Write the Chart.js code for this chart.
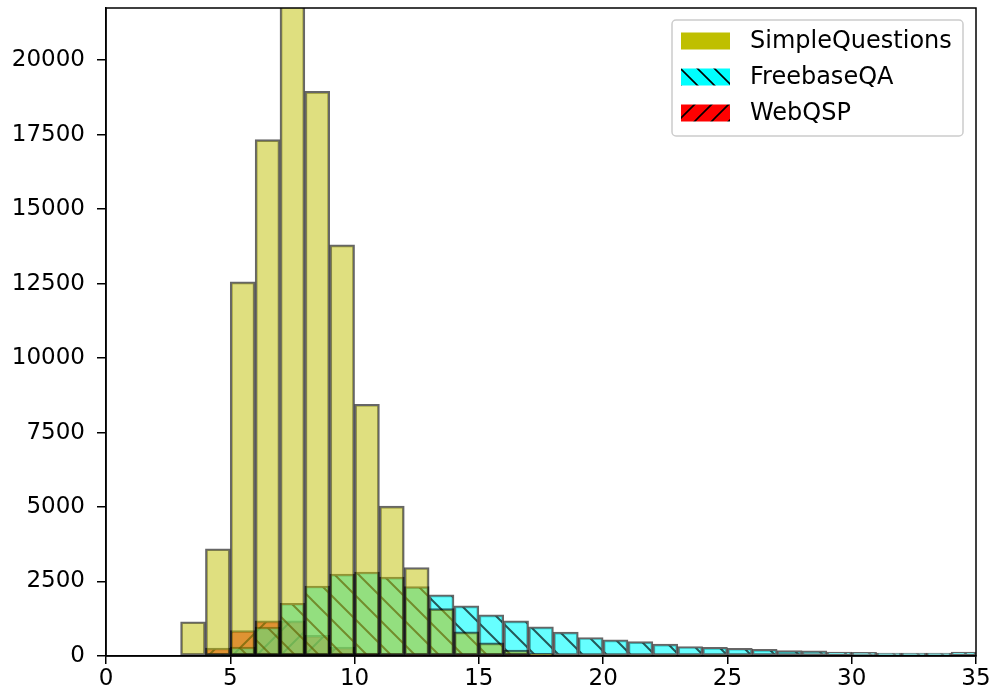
<!DOCTYPE html>
<html>
<head>
<meta charset="utf-8">
<script src="https://cdn.jsdelivr.net/npm/chart.js@4.4.1/dist/chart.umd.min.js"></script>
<style>
  html, body { margin: 0; background: #fff; }
  #wrap { width: 995px; height: 698px; }
</style>
</head>
<body>
<div id="wrap"><canvas id="hist" width="995" height="698"></canvas></div>
<script>
// 直方图：问题长度分布（每格宽 1）
const BIN_LEFT = [0, 1, 2, 3, 4, 5, 6, 7, 8, 9, 10, 11, 12, 13, 14, 15, 16, 17,
  18, 19, 20, 21, 22, 23, 24, 25, 26, 27, 28, 29, 30, 31, 32, 33, 34];

const SIMPLE_QUESTIONS = [0, 0, 0, 1150, 3600, 12560, 17330, 23000, 18950, 13800, 8450,
  5030, 2970, 1590, 810, 440, 200, 80, 30, 15, 8, 5, 3, 2, 1, 1, 0, 0, 0, 0, 0, 0, 0, 0, 0];

const FREEBASE_QA = [0, 0, 0, 0, 40, 300, 970, 1770, 2350, 2750, 2820,
  2650, 2330, 2050, 1680, 1380, 1180, 980, 800, 620, 540, 480, 400, 320, 290,
  260, 220, 180, 170, 130, 120, 100, 100, 100, 130];

const WEB_QSP = [0, 0, 0, 0, 270, 850, 1180, 1180, 690, 300, 100,
  40, 20, 10, 5, 3, 2, 1, 0, 0, 0, 0, 0, 0, 0, 0, 0, 0, 0, 0, 0, 0, 0, 0, 0];

const X_TICKS = [0, 5, 10, 15, 20, 25, 30, 35];
const Y_TICKS = [0, 2500, 5000, 7500, 10000, 12500, 15000, 17500, 20000];

const FONT = 'DejaVu Sans';

// 斜线填充
function hatch(fill, line, dir, size, lw) {
  const c = document.createElement('canvas');
  c.width = c.height = size;
  const g = c.getContext('2d');
  g.fillStyle = fill;
  g.fillRect(0, 0, size, size);
  g.strokeStyle = line;
  g.lineWidth = lw;
  g.beginPath();
  for (const o of [-size, 0, size]) {
    if (dir === '\\') {
      g.moveTo(o - 1, -1);
      g.lineTo(o + size + 1, size + 1);
    } else {
      g.moveTo(o - 1, size + 1);
      g.lineTo(o + size + 1, -1);
    }
  }
  g.stroke();
  return g.createPattern(c, 'repeat');
}

const toPoints = vals => vals.map((v, i) => ({ x: BIN_LEFT[i] + 0.5, y: v }));

const ctx = document.getElementById('hist').getContext('2d');

const barCommon = {
  borderColor: 'rgba(0,0,0,0.6)',
  borderWidth: 2,
  borderSkipped: false,
  barPercentage: 1,
  categoryPercentage: 1,
  grouped: false
};

// 图例
const legendPlugin = {
  id: 'boxLegend',
  afterDraw(chart) {
    const g = chart.ctx;
    const x0 = 672, y0 = 20, w = 291, h = 116;
    g.save();
    g.beginPath();
    g.roundRect(x0, y0, w, h, 4);
    g.fillStyle = 'rgba(255,255,255,0.8)';
    g.fill();
    g.strokeStyle = '#cccccc';
    g.lineWidth = 1.5;
    g.stroke();
    chart.data.datasets.forEach((ds, i) => {
      const cy = 41 + i * 36;
      g.fillStyle = ds.legendFill;
      g.fillRect(681, cy - 8.5, 49, 17);
      g.fillStyle = '#000';
      g.font = `24px "${FONT}"`;
      g.textBaseline = 'middle';
      g.fillText(ds.label, 750, cy + 1);
    });
    g.restore();
  }
};

// 边框
const framePlugin = {
  id: 'frame',
  afterDatasetsDraw(chart) {
    const { left, right, top, bottom } = chart.chartArea;
    const g = chart.ctx;
    g.save();
    g.strokeStyle = '#000';
    g.lineWidth = 1.5;
    g.strokeRect(left, top, right - left, bottom - top);
    g.restore();
  }
};

new Chart(ctx, {
  type: 'bar',
  data: {
    datasets: [
      {
        ...barCommon,
        label: 'SimpleQuestions',
        data: toPoints(SIMPLE_QUESTIONS),
        backgroundColor: 'rgba(191,191,0,0.5)',
        legendFill: '#bfbf00'
      },
      {
        ...barCommon,
        label: 'FreebaseQA',
        data: toPoints(FREEBASE_QA),
        backgroundColor: hatch('rgba(0,255,255,0.6)', 'rgba(0,0,0,0.65)', '\\', 24, 2),
        legendFill: hatch('#00ffff', '#000', '\\', 17, 1.6)
      },
      {
        ...barCommon,
        label: 'WebQSP',
        data: toPoints(WEB_QSP),
        backgroundColor: hatch('rgba(255,0,0,0.6)', 'rgba(0,0,0,0.65)', '/', 24, 2),
        legendFill: hatch('#ff0000', '#000', '/', 17, 1.6)
      }
    ]
  },
  options: {
    responsive: false,
    animation: false,
    layout: { padding: { top: 8, right: 19, left: 0, bottom: 0 } },
    plugins: {
      legend: { display: false },
      tooltip: { enabled: false }
    },
    scales: {
      x: {
        type: 'linear',
        min: 0,
        max: 35,
        offset: false,
        afterFit: axis => { axis.height = 42; axis.paddingLeft = 0; axis.paddingRight = 0; },
        afterBuildTicks: axis => { axis.ticks = X_TICKS.map(v => ({ value: v })); },
        grid: { display: true, offset: false, drawOnChartArea: false, drawTicks: true, tickLength: 8, color: '#000', lineWidth: 1.5 },
        border: { display: true, color: '#000', width: 1.5 },
        ticks: { color: '#000', font: { family: FONT, size: 23 }, padding: 1, maxRotation: 0, callback: v => String(v) }
      },
      y: {
        min: 0,
        max: 21750,
        afterFit: axis => { axis.width = 106; axis.paddingTop = 0; axis.paddingBottom = 0; },
        afterBuildTicks: axis => { axis.ticks = Y_TICKS.map(v => ({ value: v })); },
        grid: { display: true, drawOnChartArea: false, drawTicks: true, tickLength: 9, color: '#000', lineWidth: 1.5 },
        border: { display: true, color: '#000', width: 1.5 },
        ticks: { color: '#000', font: { family: FONT, size: 23 }, padding: 12, callback: v => String(v) }
      }
    }
  },
  plugins: [framePlugin, legendPlugin]
});
</script>
</body>
</html>
